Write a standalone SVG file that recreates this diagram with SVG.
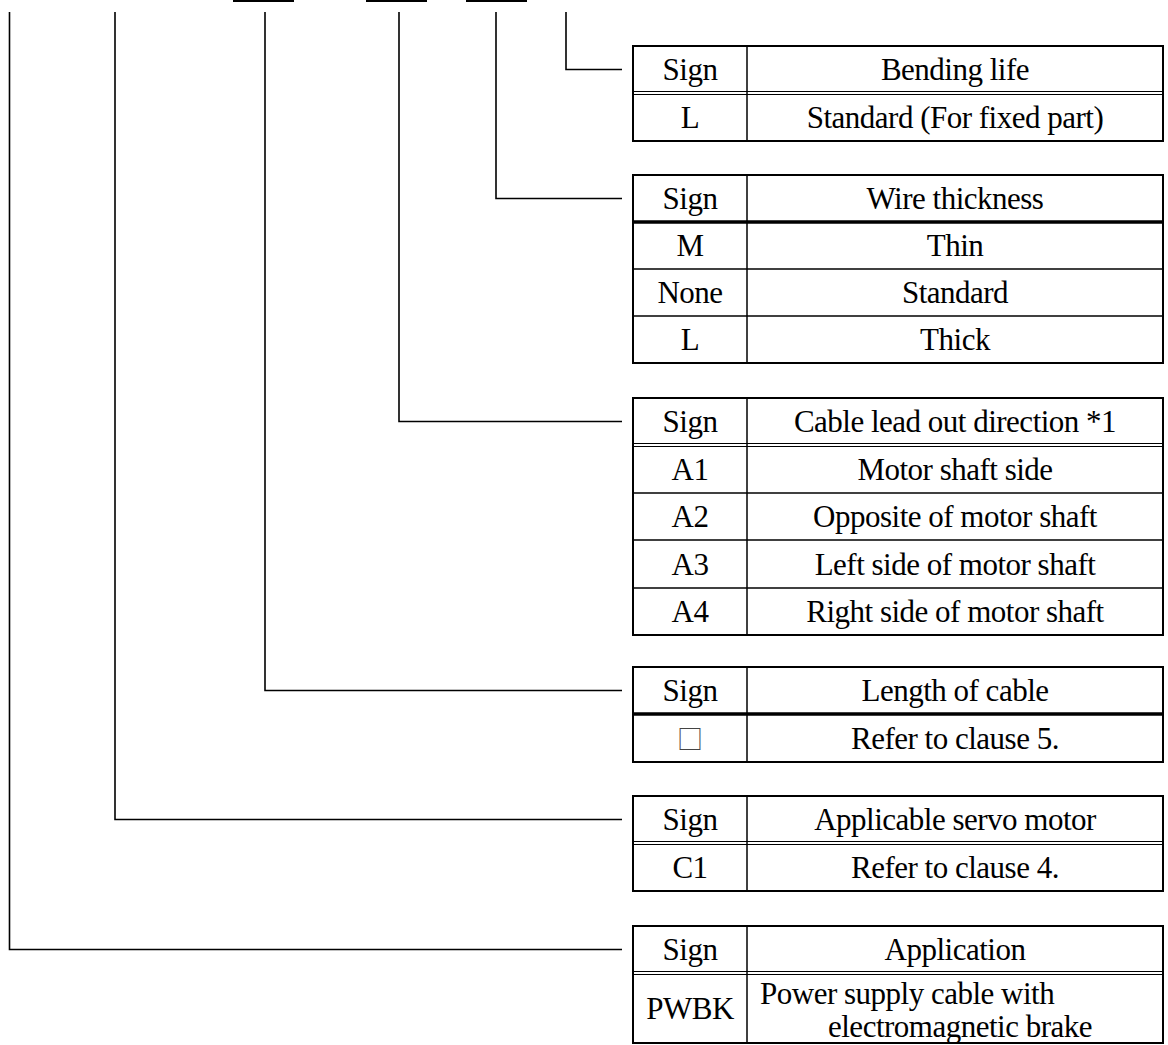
<svg xmlns="http://www.w3.org/2000/svg" width="1168" height="1045" viewBox="0 0 1168 1045">
<style>
.t{font-family:"Liberation Serif","Times New Roman",serif;font-size:31px;fill:#000;text-anchor:middle;letter-spacing:-0.5px}
.tl{font-family:"Liberation Serif","Times New Roman",serif;font-size:31px;fill:#000;letter-spacing:-0.5px}
.box{fill:#fff;stroke:#000;stroke-width:2}
.ln{stroke:#000;stroke-width:1.5;fill:none}
.thk{stroke:#000;stroke-width:3.5;fill:none}
.dbl{stroke:#000;stroke-width:1.2;fill:none}
.con{stroke:#000;stroke-width:1.6;fill:none}
.bar{fill:#000}
</style>
<rect width="1168" height="1045" fill="#fff"/>
<g id="topbars">
<rect class="bar" x="233" y="0" width="61" height="2"/>
<rect class="bar" x="366" y="0" width="61" height="2"/>
<rect class="bar" x="466" y="0" width="61" height="2"/>
</g>
<g id="connectors">
<path class="con" d="M566 12 V69.5 H622"/>
<path class="con" d="M496 12 V198.5 H622"/>
<path class="con" d="M399 12 V421.5 H622"/>
<path class="con" d="M265 12 V690.5 H622"/>
<path class="con" d="M115 12 V819.5 H622"/>
<path class="con" d="M9.5 12 V949.5 H622"/>
</g>
<g id="table-bending">
<rect class="box" x="633" y="46" width="530" height="95"/>
<line class="dbl" x1="633" y1="91.5" x2="1163" y2="91.5"/>
<line class="dbl" x1="633" y1="94.5" x2="1163" y2="94.5"/>
<line class="ln" x1="747" y1="46" x2="747" y2="141"/>
<text class="t" x="690" y="80">Sign</text>
<text class="t" x="955" y="80">Bending life</text>
<text class="t" x="690" y="127.5">L</text>
<text class="t" x="955" y="127.5">Standard (For fixed part)</text>
</g>
<g id="table-wire">
<rect class="box" x="633" y="175" width="530" height="188"/>
<line class="thk" x1="633" y1="222" x2="1163" y2="222"/>
<line class="ln" x1="633" y1="269" x2="1163" y2="269"/>
<line class="ln" x1="633" y1="316" x2="1163" y2="316"/>
<line class="ln" x1="747" y1="175" x2="747" y2="363"/>
<text class="t" x="690" y="209">Sign</text>
<text class="t" x="955" y="209">Wire thickness</text>
<text class="t" x="690" y="256">M</text>
<text class="t" x="955" y="256">Thin</text>
<text class="t" x="690" y="303">None</text>
<text class="t" x="955" y="303">Standard</text>
<text class="t" x="690" y="350">L</text>
<text class="t" x="955" y="350">Thick</text>
</g>
<g id="table-direction">
<rect class="box" x="633" y="398" width="530" height="237"/>
<line class="dbl" x1="633" y1="443.5" x2="1163" y2="443.5"/>
<line class="dbl" x1="633" y1="446.5" x2="1163" y2="446.5"/>
<line class="ln" x1="633" y1="493" x2="1163" y2="493"/>
<line class="ln" x1="633" y1="540" x2="1163" y2="540"/>
<line class="ln" x1="633" y1="588" x2="1163" y2="588"/>
<line class="ln" x1="747" y1="398" x2="747" y2="635"/>
<text class="t" x="690" y="432">Sign</text>
<text class="t" x="955" y="432">Cable lead out direction *1</text>
<text class="t" x="690" y="479.5">A1</text>
<text class="t" x="955" y="479.5">Motor shaft side</text>
<text class="t" x="690" y="527">A2</text>
<text class="t" x="955" y="527">Opposite of motor shaft</text>
<text class="t" x="690" y="574.5">A3</text>
<text class="t" x="955" y="574.5">Left side of motor shaft</text>
<text class="t" x="690" y="622">A4</text>
<text class="t" x="955" y="622">Right side of motor shaft</text>
</g>
<g id="table-length">
<rect class="box" x="633" y="667" width="530" height="95"/>
<line class="thk" x1="633" y1="714" x2="1163" y2="714"/>
<line class="ln" x1="747" y1="667" x2="747" y2="762"/>
<text class="t" x="690" y="701">Sign</text>
<text class="t" x="955" y="701">Length of cable</text>
<text x="690" y="748.5" style="font-family:'Noto Sans CJK JP','DejaVu Sans',sans-serif;font-size:26px;fill:#444;text-anchor:middle">□</text>
<text class="t" x="955" y="748.5">Refer to clause 5.</text>
</g>
<g id="table-motor">
<rect class="box" x="633" y="796" width="530" height="95"/>
<line class="dbl" x1="633" y1="841.5" x2="1163" y2="841.5"/>
<line class="dbl" x1="633" y1="844.5" x2="1163" y2="844.5"/>
<line class="ln" x1="747" y1="796" x2="747" y2="891"/>
<text class="t" x="690" y="830">Sign</text>
<text class="t" x="955" y="830">Applicable servo motor</text>
<text class="t" x="690" y="877.5">C1</text>
<text class="t" x="955" y="877.5">Refer to clause 4.</text>
</g>
<g id="table-application">
<rect class="box" x="633" y="926" width="530" height="117"/>
<line class="dbl" x1="633" y1="971.5" x2="1163" y2="971.5"/>
<line class="dbl" x1="633" y1="974.5" x2="1163" y2="974.5"/>
<line class="ln" x1="747" y1="926" x2="747" y2="1043"/>
<text class="t" x="690" y="1018.5">PWBK</text>
<text class="t" x="690" y="960">Sign</text>
<text class="t" x="955" y="960">Application</text>
<text class="tl" x="760" y="1004">Power supply cable with</text>
<text class="tl" x="828" y="1037">electromagnetic brake</text>
</g>
</svg>
